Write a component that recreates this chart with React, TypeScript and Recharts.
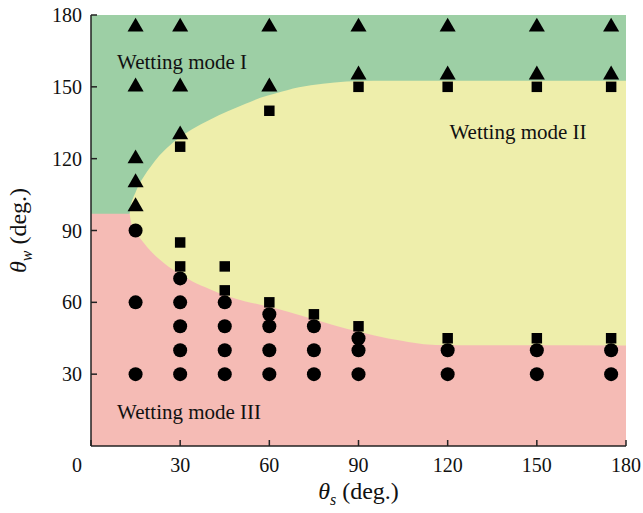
import React from "react";
import { ComposedChart, Area, Scatter, XAxis, YAxis, CartesianGrid, Symbols } from "recharts";

const xTicks = [0, 30, 60, 90, 120, 150, 180];
const yTicks = [30, 60, 90, 120, 150, 180];

// Wetting mode I (triangles)
const modeI = [
  { x: 15, y: 175 }, { x: 15, y: 150 }, { x: 15, y: 120 }, { x: 15, y: 110 }, { x: 15, y: 100 },
  { x: 30, y: 175 }, { x: 30, y: 150 }, { x: 30, y: 130 },
  { x: 60, y: 175 }, { x: 60, y: 150 },
  { x: 90, y: 175 }, { x: 90, y: 155 },
  { x: 120, y: 175 }, { x: 120, y: 155 },
  { x: 150, y: 175 }, { x: 150, y: 155 },
  { x: 175, y: 175 }, { x: 175, y: 155 },
];

// Wetting mode II (squares)
const modeII = [
  { x: 30, y: 125 }, { x: 30, y: 85 }, { x: 30, y: 75 },
  { x: 45, y: 75 }, { x: 45, y: 65 },
  { x: 60, y: 140 }, { x: 60, y: 60 },
  { x: 75, y: 55 },
  { x: 90, y: 150 }, { x: 90, y: 50 },
  { x: 120, y: 150 }, { x: 120, y: 45 },
  { x: 150, y: 150 }, { x: 150, y: 45 },
  { x: 175, y: 150 }, { x: 175, y: 45 },
];

// Wetting mode III (circles)
const modeIII = [
  { x: 15, y: 90 }, { x: 15, y: 60 }, { x: 15, y: 30 },
  { x: 30, y: 70 }, { x: 30, y: 60 }, { x: 30, y: 50 }, { x: 30, y: 40 }, { x: 30, y: 30 },
  { x: 45, y: 60 }, { x: 45, y: 50 }, { x: 45, y: 40 }, { x: 45, y: 30 },
  { x: 60, y: 55 }, { x: 60, y: 50 }, { x: 60, y: 40 }, { x: 60, y: 30 },
  { x: 75, y: 50 }, { x: 75, y: 40 }, { x: 75, y: 30 },
  { x: 90, y: 45 }, { x: 90, y: 40 }, { x: 90, y: 30 },
  { x: 120, y: 40 }, { x: 120, y: 30 },
  { x: 150, y: 40 }, { x: 150, y: 30 },
  { x: 175, y: 40 }, { x: 175, y: 30 },
];

// Region boundaries
const pinkTop = 97;
const boundaryX = [0, 13, 13.5, 14, 15, 16.5, 18, 20, 23, 26, 30, 34, 40, 46, 52, 57, 62, 70, 78, 86, 95, 105, 112, 120, 180];
const upperBoundary = [null, 97, 101, 103, 106, 110, 113, 116.5, 121.3, 125, 129, 132.3, 136.3, 139.8, 142.9, 145.4, 147.2, 149.8, 151.3, 152.2, 152.5, 152.5, 152.5, 152.5, 152.5];
const lowerBoundary = [null, 97, 93.3, 91.7, 89.5, 86.8, 84.5, 81.5, 78, 75, 71.8, 68.8, 65.5, 62.5, 60.4, 59, 57.5, 54.7, 51.8, 49, 46.3, 43.8, 42.5, 42.1, 42];

const modeLabels = [
  { x: 8.75, y: 160.5, text: "Wetting mode I" },
  { x: 120.6, y: 131.2, text: "Wetting mode II" },
  { x: 8.75, y: 14.2, text: "Wetting mode III" },
];

const regionTable = boundaryX.map((x, i) => ({
  x,
  pink: [0, pinkTop],
  band: upperBoundary[i] == null ? null : [lowerBoundary[i], upperBoundary[i]],
}));

const FONT = "'Liberation Serif', 'Times New Roman', serif";
const GREEN = "#9dcfa5";
const YELLOW = "#eeeeab";
const PINK = "#f5bbb5";
const AXIS = "#222";

const TriangleShape = (p: any) => <Symbols cx={p.cx} cy={p.cy} type="triangle" size={112} fill="#000" />;
const SquareShape = (p: any) => <Symbols cx={p.cx} cy={p.cy} type="square" size={110} fill="#000" />;
const CircleShape = (p: any) => <circle cx={p.cx} cy={p.cy} r={7} fill="#000" />;
const LabelShape = (p: any) => (
  <text x={p.cx} y={p.cy} dominantBaseline="central" textAnchor="start" fontFamily={FONT} fontSize={21} fill="#111">
    {p.payload && p.payload.text}
  </text>
);

const XTick = (p: any) => {
  const v = p.payload.value;
  return (
    <text x={p.x + (v === 0 ? -14 : 0)} y={p.y} dy="0.71em" textAnchor="middle" fontFamily={FONT} fontSize={20} fill="#111">
      {v}
    </text>
  );
};

const YTick = (p: any) => (
  <text x={p.x} y={p.y} dy="0.35em" textAnchor="end" fontFamily={FONT} fontSize={20} fill="#111">
    {p.payload.value}
  </text>
);

export default function App() {
  return (
    <div style={{ position: "absolute", left: 0, top: 0, width: 643, height: 513 }}>
      <ComposedChart width={643} height={513} data={regionTable} margin={{ top: 15, right: 17, bottom: 0, left: 0 }}>
        <CartesianGrid fill={GREEN} horizontal={false} vertical={false} stroke="none" />
        <XAxis
          xAxisId={0}
          dataKey="x"
          type="number"
          domain={[0, 180]}
          ticks={xTicks}
          height={67}
          tickSize={-6}
          tickMargin={18}
          tick={<XTick />}
          axisLine={{ stroke: AXIS, strokeWidth: 1.5 }}
          tickLine={{ stroke: AXIS, strokeWidth: 1.5 }}
          allowDataOverflow
        />
        <XAxis
          xAxisId="top"
          orientation="top"
          type="number"
          domain={[0, 180]}
          ticks={xTicks}
          height={0}
          tickSize={-6}
          tick={false}
          axisLine={{ stroke: AXIS, strokeWidth: 1.5 }}
          tickLine={{ stroke: AXIS, strokeWidth: 1.5 }}
          allowDataOverflow
        />
        <YAxis
          yAxisId={0}
          type="number"
          domain={[0, 180]}
          ticks={yTicks}
          width={91}
          tickSize={-6}
          tickMargin={15}
          tick={<YTick />}
          axisLine={{ stroke: AXIS, strokeWidth: 1.5 }}
          tickLine={{ stroke: AXIS, strokeWidth: 1.5 }}
          allowDataOverflow
        />
        <YAxis
          yAxisId="right"
          orientation="right"
          type="number"
          domain={[0, 180]}
          ticks={yTicks}
          width={0}
          tickSize={-6}
          tick={false}
          axisLine={{ stroke: AXIS, strokeWidth: 1.5 }}
          tickLine={{ stroke: AXIS, strokeWidth: 1.5 }}
          allowDataOverflow
        />
        <Area dataKey="pink" type="linear" fill={PINK} fillOpacity={1} stroke="none" isAnimationActive={false} />
        <Area dataKey="band" type="monotone" fill={YELLOW} fillOpacity={1} stroke="none" isAnimationActive={false} />
        <Scatter data={modeI} dataKey="y" shape={TriangleShape} isAnimationActive={false} />
        <Scatter data={modeII} dataKey="y" shape={SquareShape} isAnimationActive={false} />
        <Scatter data={modeIII} dataKey="y" shape={CircleShape} isAnimationActive={false} />
        <Scatter data={modeLabels} dataKey="y" shape={LabelShape} isAnimationActive={false} />
      </ComposedChart>
      <svg width={643} height={513} style={{ position: "absolute", left: 0, top: 0, pointerEvents: "none" }}>
        <text x={358.5} y={499} textAnchor="middle" fontFamily={FONT} fontSize={24} fontWeight="normal" fill="#111">
          <tspan fontStyle="italic">θ</tspan>
          <tspan fontStyle="italic" fontSize={16} dy={6}>s</tspan>
          <tspan dy={-6}> (deg.)</tspan>
        </text>
        <text x={26} y={230.5} transform="rotate(-90 26 230.5)" textAnchor="middle" fontFamily={FONT} fontSize={24} fontWeight="normal" fill="#111">
          <tspan fontStyle="italic">θ</tspan>
          <tspan fontStyle="italic" fontSize={16} dy={6}>w</tspan>
          <tspan dy={-6}> (deg.)</tspan>
        </text>
      </svg>
    </div>
  );
}
